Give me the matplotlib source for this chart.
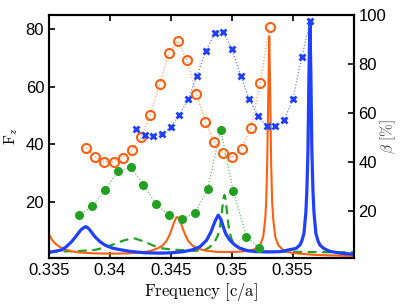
import numpy as np
import matplotlib
matplotlib.use("Agg")
import matplotlib.pyplot as plt

plt.rcParams["font.family"] = ["Liberation Sans", "DejaVu Sans"]
plt.rcParams["mathtext.fontset"] = "cm"

# spectra (left axis, F_z)
blue_f = [0.33500, 0.33603, 0.33639, 0.33686, 0.33713, 0.33740, 0.33762, 0.33781,
          0.33800, 0.33819, 0.33836, 0.33877, 0.33918, 0.33959, 0.34016, 0.34068,
          0.34164, 0.34287, 0.34410, 0.34507, 0.34602, 0.34673, 0.34739, 0.34794,
          0.34829, 0.34862, 0.34889, 0.34911, 0.34930, 0.34952, 0.34985, 0.35026,
          0.35067, 0.35133, 0.35204, 0.35297, 0.35396, 0.35478, 0.35527, 0.35560,
          0.35576, 0.35593, 0.35609, 0.35617, 0.35626, 0.35634, 0.35642, 0.35650,
          0.35658, 0.35667, 0.35675, 0.35691, 0.35708, 0.35724, 0.35757, 0.35806,
          0.35888, 0.36000]
blue_fz = [2.4, 3.3, 4.3, 6.2, 7.6, 9.1, 10.3, 10.9,
           11.4, 11.0, 10.2, 7.9, 6.2, 5.0, 4.0, 3.5,
           2.8, 2.3, 2.2, 2.3, 2.7, 3.3, 4.4, 6.7,
           9.5, 13.2, 15.4, 14.0, 11.4, 8.8, 6.7, 5.0,
           3.9, 3.0, 2.7, 2.6, 2.7, 3.4, 3.8, 5.0,
           6.5, 9.0, 16.5, 24, 38, 64, 83, 64,
           38, 24, 16.5, 9.0, 6.5, 5.0, 3.8, 2.8,
           2.2, 1.8]

orange_f = [0.33500, 0.33524, 0.33548, 0.33590, 0.33631, 0.33688, 0.33754, 0.33877,
            0.34000, 0.34148, 0.34246, 0.34328, 0.34390, 0.34431, 0.34464, 0.34489,
            0.34505, 0.34521, 0.34538, 0.34554, 0.34570, 0.34587, 0.34603, 0.34620,
            0.34644, 0.34677, 0.34718, 0.34780, 0.34883, 0.35010, 0.35092, 0.35144,
            0.35193, 0.35234, 0.35259, 0.35275, 0.35283, 0.35291, 0.35300, 0.35308,
            0.35316, 0.35324, 0.35332, 0.35341, 0.35357, 0.35382, 0.35423, 0.35478,
            0.35560, 0.35667, 0.35806, 0.36000]
orange_fz = [8.7, 6.9, 5.6, 4.3, 3.5, 2.8, 2.4, 2.1,
             2.0, 2.1, 2.4, 2.9, 3.8, 4.8, 6.4, 8.4,
             10.2, 12.2, 14.0, 14.8, 14.0, 12.2, 10.2, 8.4,
             6.4, 4.8, 3.8, 3.1, 2.6, 2.6, 2.8, 3.0,
             3.6, 5.0, 8.0, 14, 20, 33, 57, 77.6,
             57, 33, 20, 14, 8.0, 5.0, 3.2, 2.4,
             2.0, 1.6, 1.4, 1.2]

green_f = [0.33500, 0.33737, 0.33877, 0.33959, 0.34014, 0.34066, 0.34123, 0.34164,
           0.34205, 0.34254, 0.34314, 0.34369, 0.34424, 0.34493, 0.34561, 0.34698,
           0.34776, 0.34817, 0.34858, 0.34883, 0.34899, 0.34915, 0.34924, 0.34932,
           0.34940, 0.34948, 0.34957, 0.34965, 0.34973, 0.34981, 0.34998, 0.35022,
           0.35063, 0.35145, 0.35314, 0.35560, 0.35806, 0.36000]
green_fz = [2.7, 2.9, 3.3, 4.2, 5.0, 5.9, 6.7, 7.1,
            7.3, 6.6, 5.6, 4.6, 3.9, 3.5, 3.3, 3.0,
            3.2, 4.2, 6.0, 8.0, 10.2, 14.8, 18.2, 21.2,
            22.4, 21.2, 18.2, 14.8, 12.0, 9.8, 7.1, 5.0,
            3.8, 3.0, 2.7, 2.6, 2.5, 2.5]

# beta [%] (right axis)
orange_bf = [0.33803, 0.33877, 0.33953, 0.34030, 0.34104, 0.34181, 0.34257, 0.34331,
             0.34408, 0.34482, 0.34558, 0.34632, 0.34709, 0.34784, 0.34856, 0.34930,
             0.35004, 0.35081, 0.35158, 0.35234, 0.35311]
orange_beta = [45.9, 42.2, 40.3, 40.3, 41.8, 44.8, 50.3, 59.4,
               71.7, 84.4, 89.4, 81.8, 68.0, 56.5, 48.4, 43.7,
               42.0, 45.4, 54.1, 72.4, 95.2]

blue_bf = [0.34212, 0.34286, 0.34357, 0.34429, 0.34501, 0.34571, 0.34643, 0.34714,
           0.34786, 0.34860, 0.34930, 0.35002, 0.35073, 0.35144, 0.35215, 0.35287,
           0.35357, 0.35431, 0.35502, 0.35574, 0.35645]
blue_beta = [53.6, 51.3, 50.9, 51.7, 54.5, 59.2, 65.8, 75.0,
             85.3, 92.6, 93.0, 86.0, 75.3, 65.8, 59.0, 54.6,
             54.6, 57.1, 65.8, 82.7, 97.6]

green_bf = [0.33745, 0.33852, 0.33959, 0.34063, 0.34170, 0.34275, 0.34380, 0.34487,
            0.34591, 0.34698, 0.34802, 0.34909, 0.35012, 0.35121, 0.35226]
green_beta = [18.4, 22.0, 28.5, 36.3, 38.0, 30.8, 22.9, 18.4,
              16.9, 19.2, 29.1, 53.1, 28.4, 9.7, 5.2]

c_blue = "#2040ff"
c_orange = "#ff6010"
c_green = "#22a022"

fig = plt.figure(figsize=(4.07, 3.06), dpi=100)
ax = fig.add_axes([0.1204, 0.1569, 0.7482, 0.7941])
ax2 = ax.twinx()

ax.plot(green_f, green_fz, color=c_green, lw=1.6, ls=(0, (4, 2.5)))
ax.plot(orange_f, orange_fz, color=c_orange, lw=1.5)
ax.plot(blue_f, blue_fz, color=c_blue, lw=2.3)

ax2.plot(orange_bf, orange_beta, color="#ffa070", ls=(0, (1, 1.5)), lw=0.9)
ax2.plot(orange_bf, orange_beta, ls="none", marker="o", ms=6.5, mfc="none",
         mec=c_orange, mew=1.5)
ax2.plot(blue_bf, blue_beta, color="#7080ff", ls=(0, (1, 1.5)), lw=0.9)
ax2.plot(blue_bf, blue_beta, ls="none", marker="x", ms=5, mec=c_blue, mew=2)
ax2.plot(green_bf, green_beta, color="#70c070", ls=(0, (1, 1.5)), lw=0.9)
ax2.plot(green_bf, green_beta, ls="none", marker="o", ms=5.5, mfc=c_green,
         mec=c_green)

ax.set_xlim(0.335, 0.36)
ax.set_ylim(0.5, 85)
ax2.set_ylim(1, 100)

ax.set_xticks([0.335, 0.34, 0.345, 0.35, 0.355])
ax.set_xticklabels(["0.335", "0.34", "0.345", "0.35", "0.355"])
ax.set_yticks([20, 40, 60, 80])
ax2.set_yticks([20, 40, 60, 80, 100])

ax.tick_params(direction="in", length=4, width=1.2, labelsize=12, top=True,
               right=False)
ax2.tick_params(direction="in", length=4, width=1.2, labelsize=12)
for a in (ax, ax2):
    for s in a.spines.values():
        s.set_linewidth(1.5)

ax.set_xlabel(r"$\mathrm{Frequency\ [c/a]}$", fontsize=12, labelpad=2)
ax.set_ylabel(r"$\mathrm{F}_z$", fontsize=11, labelpad=4)
ax2.set_ylabel(r"$\beta\ \mathrm{[\%]}$", fontsize=11, color="#444444",
               rotation=90, va="center", ha="center")
ax2.yaxis.set_label_coords(1.113, 0.5)

fig.savefig("out.png", dpi=100)
